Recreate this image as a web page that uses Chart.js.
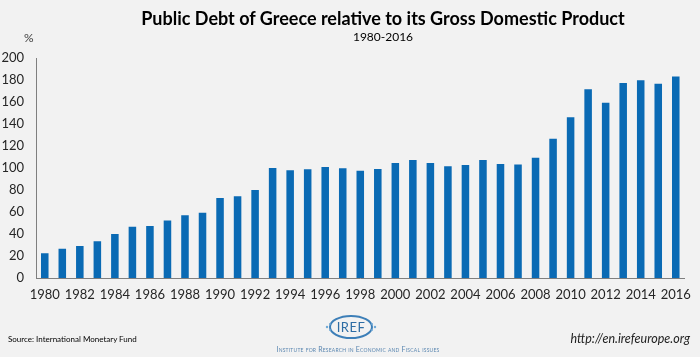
<!DOCTYPE html>
<html>
<head>
<meta charset="utf-8">
<script src="https://cdn.jsdelivr.net/npm/chart.js@4"></script>
<style>
  html,body{margin:0;padding:0;background:#f2f2f2;}
  #wrap{position:relative;width:700px;height:357px;background:#f2f2f2;overflow:hidden;font-family:Lato,"Open Sans",sans-serif;}
  #c{position:absolute;left:0;top:0;}
  .t{position:absolute;white-space:nowrap;color:#000;}
  #title{left:0;width:700px;top:7px;text-align:center;font-weight:bold;font-size:18px;padding-left:66px;box-sizing:border-box;}
  #sub{left:0;width:700px;top:29px;text-align:center;font-size:12px;padding-left:66px;box-sizing:border-box;}
  #pct{left:24px;top:30px;font-size:12px;color:#404040;}
  #src{left:8px;top:334px;font-size:8px;color:#000;}
  #url{right:10px;top:331px;font-size:12.5px;font-style:italic;color:#222;}
  #inst{left:264px;top:345px;width:188px;text-align:center;font-size:7px;color:#5a86b0;font-variant:small-caps;letter-spacing:0.2px;}
  #logo{position:absolute;left:323px;top:313px;}
</style>
</head>
<body>
<div id="wrap">
  <canvas id="c" width="700" height="357"></canvas>
  <div class="t" id="title">Public Debt of Greece relative to its Gross Domestic Product</div>
  <div class="t" id="sub">1980-2016</div>
  <div class="t" id="pct">%</div>
  <div class="t" id="src">Source: International Monetary Fund</div>
  <div class="t" id="url">http://en.irefeurope.org</div>
  <svg id="logo" width="56" height="28" viewBox="0 0 56 28">
    <ellipse cx="28" cy="14" rx="21" ry="11" fill="none" stroke="#3d7fb8" stroke-width="2"/>
    <circle cx="4" cy="14" r="1.2" fill="#6fa8d6"/><circle cx="7" cy="11" r="1" fill="#6fa8d6"/><circle cx="7" cy="17" r="1" fill="#6fa8d6"/>
    <circle cx="52" cy="14" r="1.2" fill="#6fa8d6"/><circle cx="49" cy="11" r="1" fill="#6fa8d6"/><circle cx="49" cy="17" r="1" fill="#6fa8d6"/>
    <text x="28" y="19" text-anchor="middle" font-family="Lato,sans-serif" font-size="13" fill="#2e6da4" letter-spacing="0.5">IREF</text>
  </svg>
  <div class="t" id="inst">Institute for Research in Economic and Fiscal issues</div>
</div>
<script>
const years = ["1980","1981","1982","1983","1984","1985","1986","1987","1988","1989","1990","1991","1992","1993","1994","1995","1996","1997","1998","1999","2000","2001","2002","2003","2004","2005","2006","2007","2008","2009","2010","2011","2012","2013","2014","2015","2016"];
const debtPctGdp = [22.5,26.7,29.1,33.4,40.0,46.7,47.3,52.2,57.0,59.4,72.7,74.3,80.0,100.0,97.9,98.8,100.9,99.7,97.6,99.1,104.5,107.3,104.5,101.5,102.7,107.3,103.6,103.1,109.4,126.7,146.1,171.5,159.4,177.3,179.7,176.7,183.1];
const yTicks = [0,20,40,60,80,100,120,140,160,180,200];

new Chart(document.getElementById('c'), {
  type: 'bar',
  data: {
    labels: years,
    datasets: [{
      data: debtPctGdp,
      backgroundColor: '#0a6ab4',
      borderWidth: 0,
      barPercentage: 0.43,
      categoryPercentage: 1.0
    }]
  },
  options: {
    responsive: false,
    animation: false,
    devicePixelRatio: 1,
    layout: { padding: { left: 0, right: 11, top: 58, bottom: 0 } },
    plugins: { legend: { display: false }, tooltip: { enabled: false }, title: { display: false } },
    scales: {
      x: {
        grid: { display: false, drawTicks: false },
        border: { display: true, color: '#7f7f7f', width: 1 },
        ticks: {
          autoSkip: false, maxRotation: 0, minRotation: 0, padding: 9,
          color: '#262626',
          font: { family: 'Lato, "Open Sans", sans-serif', size: 13 },
          callback: function(v, i) { return i % 2 === 0 ? years[i] : ''; }
        },
        afterFit: function(s) { s.height = 79; }
      },
      y: {
        min: 0, max: 200,
        grid: { display: false, drawTicks: false },
        border: { display: true, color: '#7f7f7f', width: 1 },
        afterBuildTicks: function(s) { s.ticks = yTicks.map(v => ({ value: v })); },
        ticks: {
          padding: 12, color: '#262626',
          font: { family: 'Lato, "Open Sans", sans-serif', size: 13 }
        },
        afterFit: function(s) { s.width = 36; }
      }
    }
  }
});
</script>
</body>
</html>
